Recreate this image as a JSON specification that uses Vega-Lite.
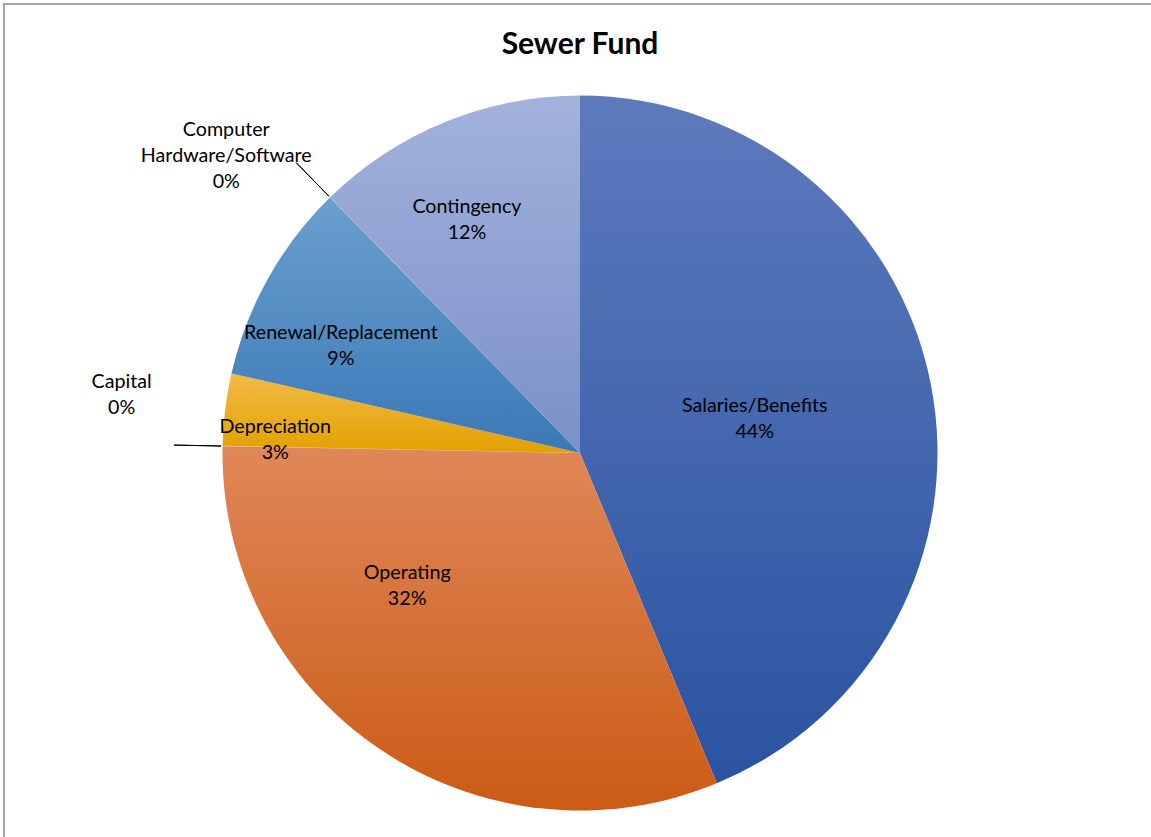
{
  "$schema": "https://vega.github.io/schema/vega-lite/v6.json",
  "width": 1152,
  "height": 898,
  "autosize": "none",
  "padding": {"left": 4, "top": 4, "right": -5, "bottom": 0},
  "background": "white",
  "view": {"stroke": "#a6a6a6", "strokeWidth": 2, "strokeDash": [1152, 2050, 898]},
  "config": {
    "text": {"font": "Lato", "fontSize": 19.7, "color": "#000000"}
  },
  "title": {
    "text": "Sewer Fund",
    "font": "Lato",
    "fontSize": 30,
    "fontWeight": "bold",
    "color": "#000000",
    "anchor": "middle",
    "frame": "group",
    "baseline": "alphabetic",
    "offset": -98
  },
  "data": {
    "values": [
      {"category": "Salaries/Benefits", "share": 0.4375},
      {"category": "Operating", "share": 0.3155},
      {"category": "Capital", "share": 0.0002},
      {"category": "Depreciation", "share": 0.0325},
      {"category": "Renewal/Replacement", "share": 0.091},
      {"category": "Computer Hardware/Software", "share": 0.0002},
      {"category": "Contingency", "share": 0.1231}
    ]
  },
  "transform": [{"window": [{"op": "row_number", "as": "idx"}]}],
  "encoding": {
    "theta": {"field": "share", "type": "quantitative", "stack": true},
    "order": {"field": "idx", "type": "quantitative"},
    "detail": {"field": "category"}
  },
  "layer": [
    {
      "mark": {"type": "arc", "radius": 357.5},
      "encoding": {
        "color": {
          "condition": [
            {"test": "datum.category === 'Salaries/Benefits'", "value": {"gradient": "linear", "x1": 0, "y1": 0, "x2": 0, "y2": 1, "stops": [{"offset": 0, "color": "#5d7abc"}, {"offset": 1, "color": "#2a53a1"}]}},
            {"test": "datum.category === 'Operating'", "value": {"gradient": "linear", "x1": 0, "y1": 0, "x2": 0, "y2": 1, "stops": [{"offset": 0, "color": "#e08759"}, {"offset": 1, "color": "#cb5b15"}]}},
            {"test": "datum.category === 'Capital'", "value": {"gradient": "linear", "x1": 0, "y1": 0, "x2": 0, "y2": 1, "stops": [{"offset": 0, "color": "#b0b0b0"}, {"offset": 1, "color": "#8a8a8a"}]}},
            {"test": "datum.category === 'Depreciation'", "value": {"gradient": "linear", "x1": 0, "y1": 0, "x2": 0, "y2": 1, "stops": [{"offset": 0, "color": "#f1bb45"}, {"offset": 1, "color": "#e2a100"}]}},
            {"test": "datum.category === 'Renewal/Replacement'", "value": {"gradient": "linear", "x1": 0, "y1": 0, "x2": 0, "y2": 1, "stops": [{"offset": 0, "color": "#6aa0ce"}, {"offset": 1, "color": "#3a78b6"}]}},
            {"test": "datum.category === 'Computer Hardware/Software'", "value": {"gradient": "linear", "x1": 0, "y1": 0, "x2": 0, "y2": 1, "stops": [{"offset": 0, "color": "#7fb95a"}, {"offset": 1, "color": "#5a9a35"}]}},
            {"test": "datum.category === 'Contingency'", "value": {"gradient": "linear", "x1": 0, "y1": 0, "x2": 0, "y2": 1, "stops": [{"offset": 0, "color": "#a2b2dc"}, {"offset": 1, "color": "#7c90c9"}]}}
          ],
          "value": "#999999"
        }
      }
    },
    {
      "mark": {"type": "arc", "radius": 406, "radius2": 359, "padAngle": 0.02, "fill": "transparent", "strokeWidth": 1},
      "encoding": {
        "stroke": {
          "condition": {"test": "datum.category === 'Capital' || datum.category === 'Computer Hardware/Software'", "value": "#000000"},
          "value": null
        }
      }
    },
    {
      "mark": {"type": "text", "radius": 178, "thetaOffset": 0.004, "dy": -13},
      "encoding": {"text": {"condition": {"test": "datum.category === 'Salaries/Benefits'", "field": "category"}, "value": ""}}
    },
    {
      "mark": {"type": "text", "radius": 178, "thetaOffset": 0.004, "dy": 13},
      "encoding": {"text": {"condition": {"test": "datum.category === 'Salaries/Benefits'", "field": "share", "type": "quantitative", "format": ".0%"}, "value": ""}}
    },
    {
      "mark": {"type": "text", "radius": 218, "thetaOffset": 0.317, "dy": -13},
      "encoding": {"text": {"condition": {"test": "datum.category === 'Operating'", "field": "category"}, "value": ""}}
    },
    {
      "mark": {"type": "text", "radius": 218, "thetaOffset": 0.317, "dy": 13},
      "encoding": {"text": {"condition": {"test": "datum.category === 'Operating'", "field": "share", "type": "quantitative", "format": ".0%"}, "value": ""}}
    },
    {
      "mark": {"type": "text", "radius": 462, "thetaOffset": 0.106, "dy": -13},
      "encoding": {"text": {"condition": {"test": "datum.category === 'Capital'", "field": "category"}, "value": ""}}
    },
    {
      "mark": {"type": "text", "radius": 462, "thetaOffset": 0.106, "dy": 13},
      "encoding": {"text": {"condition": {"test": "datum.category === 'Capital'", "field": "share", "type": "quantitative", "format": ".0%"}, "value": ""}}
    },
    {
      "mark": {"type": "text", "radius": 305, "thetaOffset": -0.08, "dy": -13},
      "encoding": {"text": {"condition": {"test": "datum.category === 'Depreciation'", "field": "category"}, "value": ""}}
    },
    {
      "mark": {"type": "text", "radius": 305, "thetaOffset": -0.08, "dy": 13},
      "encoding": {"text": {"condition": {"test": "datum.category === 'Depreciation'", "field": "share", "type": "quantitative", "format": ".0%"}, "value": ""}}
    },
    {
      "mark": {"type": "text", "radius": 262, "thetaOffset": -0.089, "dy": -13},
      "encoding": {"text": {"condition": {"test": "datum.category === 'Renewal/Replacement'", "field": "category"}, "value": ""}}
    },
    {
      "mark": {"type": "text", "radius": 262, "thetaOffset": -0.089, "dy": 13},
      "encoding": {"text": {"condition": {"test": "datum.category === 'Renewal/Replacement'", "field": "share", "type": "quantitative", "format": ".0%"}, "value": ""}}
    },
    {
      "mark": {"type": "text", "radius": 462, "thetaOffset": -0.098, "dy": -26, "lineBreak": " ", "lineHeight": 26},
      "encoding": {"text": {"condition": {"test": "datum.category === 'Computer Hardware/Software'", "field": "category"}, "value": ""}}
    },
    {
      "mark": {"type": "text", "radius": 462, "thetaOffset": -0.098, "dy": 26},
      "encoding": {"text": {"condition": {"test": "datum.category === 'Computer Hardware/Software'", "field": "share", "type": "quantitative", "format": ".0%"}, "value": ""}}
    },
    {
      "mark": {"type": "text", "radius": 259, "thetaOffset": -0.065, "dy": -13},
      "encoding": {"text": {"condition": {"test": "datum.category === 'Contingency'", "field": "category"}, "value": ""}}
    },
    {
      "mark": {"type": "text", "radius": 259, "thetaOffset": -0.065, "dy": 13},
      "encoding": {"text": {"condition": {"test": "datum.category === 'Contingency'", "field": "share", "type": "quantitative", "format": ".0%"}, "value": ""}}
    }
  ]
}
